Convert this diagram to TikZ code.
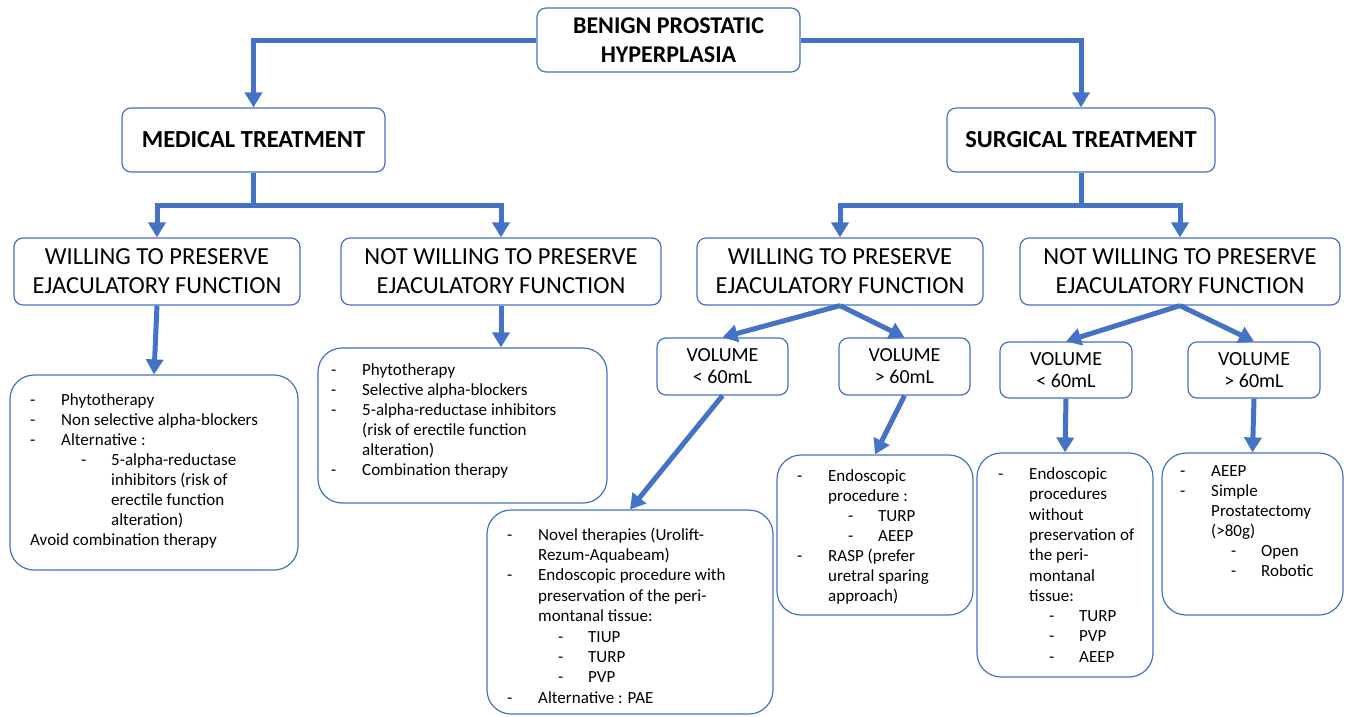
\documentclass[tikz,border=0pt]{standalone}
\usepackage{fontspec}
\setmainfont{Carlito}
\usetikzlibrary{arrows.meta}
\definecolor{bl}{HTML}{4472C4}
\newcommand{\lia}[1]{\makebox[31pt][l]{-}#1}
\newcommand{\lic}[1]{\hspace*{31pt}#1}
\newcommand{\lib}[1]{\hspace*{51pt}\makebox[30pt][l]{-}#1}
\newcommand{\lid}[1]{\hspace*{81pt}#1}
\tikzset{
  hbox/.style={draw=bl, line width=1.2pt, rounded corners=9pt, align=center, inner sep=0pt, fill=white},
  bigbox/.style={draw=bl, line width=1.2pt, rounded corners=24pt, inner sep=0pt},
  conn/.style={draw=bl, line width=5pt, -{Triangle[width=17pt,length=15pt]}},
  plain/.style={draw=bl, line width=5pt},
  item/.style={anchor=north west, align=left, inner sep=0pt, font=\fontsize{17}{20}\selectfont},
  hdr/.style={font=\fontsize{24.5}{29}\selectfont},
  vol/.style={hbox, minimum width=131pt, minimum height=57pt, font=\fontsize{20}{22}\selectfont}
}
\begin{document}
\begin{tikzpicture}[x=1pt,y=-1pt]
\useasboundingbox (0,0) rectangle (1349,716);
% header boxes
\node[hbox, minimum width=263pt, minimum height=64pt, font=\bfseries\fontsize{24}{29}\selectfont] (bph) at (668.5,40) {BENIGN PROSTATIC\\HYPERPLASIA};
\node[hbox, minimum width=263pt, minimum height=64pt, font=\bfseries\fontsize{24.5}{29}\selectfont] (med) at (253.5,140) {MEDICAL TREATMENT};
\node[hbox, minimum width=268pt, minimum height=64pt, font=\bfseries\fontsize{24.5}{29}\selectfont] (sur) at (1081,140) {SURGICAL TREATMENT};
\node[hbox, hdr, minimum width=286pt, minimum height=67pt] (wpl) at (157,271.5) {WILLING TO PRESERVE\\EJACULATORY FUNCTION};
\node[hbox, hdr, minimum width=320pt, minimum height=67pt] (nwpl) at (501,271.5) {NOT WILLING TO PRESERVE\\EJACULATORY FUNCTION};
\node[hbox, hdr, minimum width=286pt, minimum height=67pt] (wpr) at (840,271.5) {WILLING TO PRESERVE\\EJACULATORY FUNCTION};
\node[hbox, hdr, minimum width=320pt, minimum height=67pt] (nwpr) at (1180,271.5) {NOT WILLING TO PRESERVE\\EJACULATORY FUNCTION};
\node[vol] (v1) at (722.5,366.5) {VOLUME\\< 60mL};
\node[vol] (v2) at (904.5,366.5) {VOLUME\\> 60mL};
\node[vol, minimum width=132pt, minimum height=56pt] (v3) at (1066,370) {VOLUME\\< 60mL};
\node[vol, minimum width=132pt, minimum height=56pt] (v4) at (1254,370) {VOLUME\\> 60mL};
% big boxes
\node[bigbox, minimum width=288pt, minimum height=195pt] (bA) at (154,472.5) {};
\node[bigbox, minimum width=289pt, minimum height=155pt] (bB) at (462.5,425.5) {};
\node[bigbox, minimum width=286pt, minimum height=204pt] (bC) at (630,612) {};
\node[bigbox, minimum width=196pt, minimum height=160pt] (bD) at (875,535) {};
\node[bigbox, minimum width=176pt, minimum height=224pt] (bE) at (1065,565) {};
\node[bigbox, minimum width=181pt, minimum height=162pt] (bF) at (1252.5,534) {};
% texts
\node[item] (tA) at (30,393.5) {\lia{Phytotherapy}\\\lia{Non selective alpha-blockers}\\\lia{Alternative :}\\\lib{5-alpha-reductase}\\\lid{inhibitors (risk of}\\\lid{erectile function}\\\lid{alteration)}\\Avoid combination therapy};
\node[item] (tB) at (331,363.5) {\lia{Phytotherapy}\\\lia{Selective alpha-blockers}\\\lia{5-alpha-reductase inhibitors}\\\lic{(risk of erectile function}\\\lic{alteration)}\\\lia{Combination therapy}};
\node[item, font=\fontsize{17}{20.4}\selectfont] (tC) at (507,527.5) {\lia{Novel therapies (Urolift-}\\\lic{Rezum-Aquabeam)}\\\lia{Endoscopic procedure with}\\\lic{preservation of the peri-}\\\lic{montanal tissue:}\\\lib{TIUP}\\\lib{TURP}\\\lib{PVP}\\\lia{Alternative : PAE}};
\node[item] (tD) at (797,469.5) {\lia{Endoscopic}\\\lic{procedure :}\\\lib{TURP}\\\lib{AEEP}\\\lia{RASP (prefer}\\\lic{uretral sparing}\\\lic{approach)}};
\node[item, font=\fontsize{17}{20.3}\selectfont] (tE) at (998,467.5) {\lia{Endoscopic}\\\lic{procedures}\\\lic{without}\\\lic{preservation of}\\\lic{the peri-}\\\lic{montanal}\\\lic{tissue:}\\\lib{TURP}\\\lib{PVP}\\\lib{AEEP}};
\node[item] (tF) at (1180,465.5) {\lia{AEEP}\\\lia{Simple}\\\lic{Prostatectomy}\\\lic{(>80g)}\\\lib{Open}\\\lib{Robotic}};
% connectors
\coordinate (mb) at (253.5,205);
\coordinate (sb) at (1081,205);
\draw[conn] (bph.west) -| (med.north);
\draw[conn] (bph.east) -| (sur.north);
\draw[plain] (med.south) -- (mb);
\draw[conn] (mb) -| (wpl.north);
\draw[conn] (mb) -| (nwpl.north);
\draw[plain] (sur.south) -- (sb);
\draw[conn] (sb) -| (wpr.north);
\draw[conn] (sb) -| (nwpr.north);
\draw[conn] (wpl.south) -- (bA.north);
\draw[conn] (nwpl.south) -- (nwpl.south |- bB.north);
\draw[conn] (wpr.south) -- (v1.north);
\draw[conn] (wpr.south) -- (v2.north);
\draw[conn] (nwpr.south) -- (v3.north);
\draw[conn] (nwpr.south) -- (v4.north);
\draw[conn] (v1.south) -- (bC.north);
\draw[conn] (v2.south) -- (bD.north);
\draw[conn] (v3.south) -- (bE.north);
\draw[conn] (v4.south) -- (bF.north);
\end{tikzpicture}
\end{document}
